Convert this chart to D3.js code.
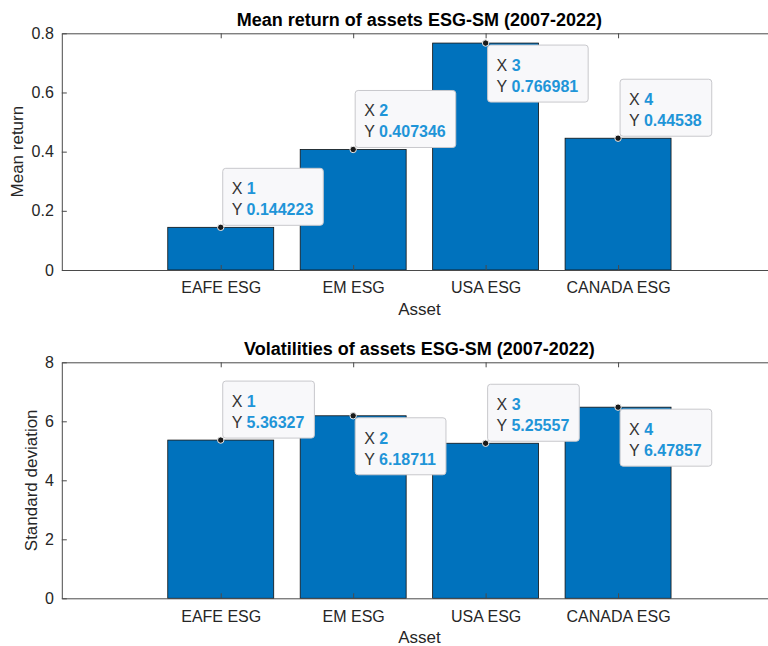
<!DOCTYPE html>
<html>
<head>
<meta charset="utf-8">
<script src="https://cdn.jsdelivr.net/npm/d3@7/dist/d3.min.js"></script>
<style>
  html, body { margin: 0; padding: 0; background: #fff; }
  svg { display: block; font-family: Helvetica, Arial, "Liberation Sans", sans-serif; }
</style>
</head>
<body>
<svg id="fig" width="768" height="646"></svg>
<script>
// Asset categories and per-asset statistics
const assets = ["EAFE ESG", "EM ESG", "USA ESG", "CANADA ESG"];
const meanReturn = [0.144223, 0.407346, 0.766981, 0.44538];
const volatility = [5.36327, 6.18711, 5.25557, 6.47857];
const meanTicks = [0, 0.2, 0.4, 0.6, 0.8];
const volTicks = [0, 2, 4, 6, 8];
const meanLabels = ["0", "0.2", "0.4", "0.6", "0.8"];
const volLabels = ["0", "2", "4", "6", "8"];

const svg = d3.select("#fig");
const axisColor = "#4a4a4a";
const textColor = "#262626";
const barColor = "#0072BD";
const tipBlue = "#1f95d8";

function panel(opts) {
  const g = svg.append("g");
  const x = d3.scaleLinear().domain([-0.2, 5.2]).range([61.8, 777]);
  const y = d3.scaleLinear().domain([0, opts.ymax]).range([opts.bottom, opts.top]);

  // bars
  g.selectAll("rect.bar").data(opts.values).join("rect")
    .attr("class", "bar")
    .attr("x", (d, i) => x(i + 1 - 0.4))
    .attr("width", (d, i) => x(i + 1.4) - x(i + 0.6))
    .attr("y", d => y(d))
    .attr("height", d => y(0) - y(d))
    .attr("fill", barColor)
    .attr("stroke", "#111")
    .attr("stroke-width", 0.8);

  // axes: bottom, left, plus box top and right with inward ticks
  const tickLen = 5;
  const xAxis = d3.axisBottom(x).tickValues([1, 2, 3, 4])
    .tickFormat((d) => assets[d - 1]).tickSizeInner(-tickLen).tickSizeOuter(0).tickPadding(12);
  const gx = g.append("g").attr("transform", `translate(0,${opts.bottom})`).call(xAxis);
  const xTop = d3.axisTop(x).tickValues([1, 2, 3, 4]).tickFormat("").tickSizeInner(-tickLen).tickSizeOuter(0);
  const gxt = g.append("g").attr("transform", `translate(0,${opts.top})`).call(xTop);
  const yAxis = d3.axisLeft(y).tickValues(opts.ticks)
    .tickFormat((d, i) => opts.labels[i]).tickSizeInner(-tickLen).tickSizeOuter(0).tickPadding(8);
  const gy = g.append("g").attr("transform", `translate(${x(-0.2)},0)`).call(yAxis);
  const yRight = d3.axisRight(y).tickValues(opts.ticks).tickFormat("").tickSizeInner(-tickLen).tickSizeOuter(0);
  const gyr = g.append("g").attr("transform", `translate(${x(5.2)},0)`).call(yRight);

  [gx, gxt, gy, gyr].forEach(a => {
    a.selectAll("path.domain").attr("stroke", axisColor).attr("stroke-width", 1);
    a.selectAll(".tick line").attr("stroke", axisColor).attr("stroke-width", 1);
    a.selectAll(".tick text").attr("fill", textColor).style("font-size", "16px");
  });
  gx.selectAll(".tick text").attr("dy", "0.71em");

  // title and axis labels
  const cx = (x(-0.2) + x(5.2)) / 2;
  g.append("text").attr("x", cx).attr("y", opts.top - 7)
    .attr("text-anchor", "middle").attr("font-weight", "bold")
    .style("font-size", "18px").attr("fill", "#000").text(opts.title);
  g.append("text").attr("x", cx).attr("y", opts.bottom + 45)
    .attr("text-anchor", "middle").style("font-size", "17px").attr("fill", textColor).text("Asset");
  g.append("text")
    .attr("transform", `translate(${opts.ylabelX},${(opts.top + opts.bottom) / 2}) rotate(-90)`)
    .attr("text-anchor", "middle").style("font-size", "17px").attr("fill", textColor).text(opts.ylabel);

  // data tips
  opts.values.forEach((v, i) => {
    const px = x(i + 1), py = y(v);
    const below = opts.tipBelow[i];
    const tip = g.append("g");
    const lines = [["X ", String(i + 1)], ["Y ", String(v)]];
    lines.forEach((ln, k) => {
      const t = tip.append("text").attr("class", "tl" + k).style("font-size", "16px");
      t.append("tspan").attr("fill", "#333").text(ln[0]);
      t.append("tspan").attr("fill", tipBlue).attr("font-weight", "bold").text(ln[1]);
    });
    const w = Math.max(...tip.selectAll("text").nodes().map(n => n.getComputedTextLength())) + 19;
    const h = 57;
    const bx = px + 2;
    const by = below ? py + 2 : py - 2 - h;
    tip.insert("rect", ":first-child")
      .attr("x", bx).attr("y", by).attr("width", w).attr("height", h)
      .attr("rx", 3).attr("fill", "#f8f8fa").attr("stroke", "#c8c8cc").attr("stroke-width", 1);
    tip.select(".tl0").attr("x", bx + 9).attr("y", by + 26);
    tip.select(".tl1").attr("x", bx + 9).attr("y", by + 47);
    g.append("circle").attr("cx", px).attr("cy", py).attr("r", 3.2)
      .attr("fill", "#1a1a1a").attr("stroke", "#eee").attr("stroke-width", 1);
  });
}

panel({
  values: meanReturn, ymax: 0.8, ticks: meanTicks, labels: meanLabels,
  top: 33.3, bottom: 270,
  title: "Mean return of assets ESG-SM (2007-2022)", ylabel: "Mean return", ylabelX: 23,
  tipBelow: [false, false, true, false]
});
panel({
  values: volatility, ymax: 8, ticks: volTicks, labels: volLabels,
  top: 362.3, bottom: 598.3,
  title: "Volatilities of assets ESG-SM (2007-2022)", ylabel: "Standard deviation", ylabelX: 37,
  tipBelow: [false, true, false, true]
});
</script>
</body>
</html>
